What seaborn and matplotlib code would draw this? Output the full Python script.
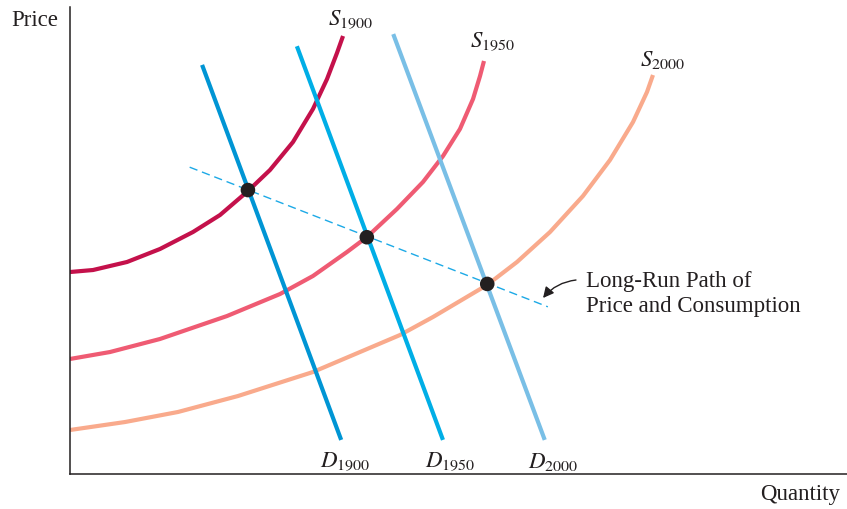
import numpy as np
import pandas as pd
import matplotlib
matplotlib.use("Agg")
import matplotlib.pyplot as plt
import seaborn as sns

# supply curves (quantity, price), 0-100 scale
s1900_q = [0, 2.96, 7.34, 11.58, 15.83, 19.31, 22.91, 25.74, 28.70, 31.27, 33.08, 34.36, 35.14]
s1900_p = [43.25, 43.68, 45.40, 48.18, 51.82, 55.46, 60.60, 65.10, 71.09, 78.16, 84.58, 90.15, 93.79]

s1950_q = [0, 5.15, 11.58, 20.21, 27.03, 31.27, 35.65, 38.22, 42.08, 45.43, 48.01, 50.19, 51.87, 52.77, 53.28]
s1950_p = [24.63, 26.12, 28.91, 33.83, 38.54, 42.40, 47.54, 50.75, 56.75, 62.53, 68.09, 73.88, 80.30, 85.22, 88.44]

s2000_q = [0, 7.08, 13.90, 21.62, 31.27, 42.47, 46.72, 53.67, 57.53, 61.78, 66.02, 69.50, 72.46, 74.26, 75.03]
s2000_p = [9.42, 11.13, 13.28, 16.70, 21.84, 29.76, 33.62, 40.47, 45.40, 51.82, 59.53, 67.24, 75.37, 81.80, 85.44]

# demand lines (two end points each)
d1900_q = [17.0, 34.9]
d1900_p = [87.6, 7.3]
d1950_q = [29.2, 48.0]
d1950_p = [91.6, 7.3]
d2000_q = [41.6, 61.1]
d2000_p = [94.2, 7.3]

# equilibria and long-run path
eq_q = [22.9, 38.2, 53.7]
eq_p = [60.8, 50.7, 40.7]
path_q = [15.4, 61.5]
path_p = [65.7, 35.8]

# callout arrow: tail, head
arrow_tail = (65.12, 41.54)
arrow_head = (60.88, 37.69)

ink = "#231F20"

sns.set_theme(style="white")
plt.rcParams["font.family"] = ["Liberation Serif", "DejaVu Serif"]
plt.rcParams["mathtext.fontset"] = "stix"

fig = plt.figure(figsize=(8.47, 5.10), dpi=100)
ax = fig.add_axes([70 / 847, 35 / 510, 777 / 847, 467 / 510])


def curve(q, p, color, lw):
    df = pd.DataFrame({"q": q, "p": p})
    sns.lineplot(data=df, x="q", y="p", ax=ax, color=color, linewidth=lw,
                 sort=False, estimator=None, solid_capstyle="butt",
                 solid_joinstyle="round")


curve(s1900_q, s1900_p, "#C4114B", 3.0)
curve(s1950_q, s1950_p, "#EF5B73", 3.0)
curve(s2000_q, s2000_p, "#F9AA8C", 3.0)
curve(d1900_q, d1900_p, "#0095D4", 3.0)
curve(d1950_q, d1950_p, "#00AEE6", 3.0)
curve(d2000_q, d2000_p, "#79BFE6", 3.0)

ax.plot(path_q, path_p, color="#1CA9E6", linewidth=1.0, linestyle=(0, (6, 3.5)))

sns.scatterplot(x=eq_q, y=eq_p, ax=ax, color=ink, s=110, edgecolor="none", zorder=5)

ax.set_xlim(0, 100)
ax.set_ylim(0, 100)
ax.set_xticks([])
ax.set_yticks([])
ax.set_xlabel("")
ax.set_ylabel("")
for side in ["top", "right"]:
    ax.spines[side].set_visible(False)
for side in ["left", "bottom"]:
    ax.spines[side].set_color(ink)
    ax.spines[side].set_linewidth(1.1)

fs = 16.5
ax.text(33.2, 97.4, r"$S_{1900}$", fontsize=fs, color=ink, va="center")
ax.text(51.5, 92.7, r"$S_{1950}$", fontsize=fs, color=ink, va="center")
ax.text(73.4, 88.9, r"$S_{2000}$", fontsize=fs, color=ink, va="center")
ax.text(32.2, 2.8, r"$D_{1900}$", fontsize=fs, color=ink, va="center")
ax.text(45.7, 2.8, r"$D_{1950}$", fontsize=fs, color=ink, va="center")
ax.text(58.9, 2.8, r"$D_{2000}$", fontsize=fs, color=ink, va="center")

ax.text(66.4, 38.8, "Long-Run Path of\nPrice and Consumption", fontsize=fs, color=ink,
        va="center", ha="left", linespacing=1.25)
ax.annotate("", xy=arrow_head, xytext=arrow_tail,
            arrowprops=dict(arrowstyle="-|>", color=ink, lw=1.0,
                            connectionstyle="arc3,rad=0.2",
                            shrinkA=0, shrinkB=0, mutation_scale=16))

fig.text(58 / 847, 1 - 20 / 510, "Price", fontsize=fs, color=ink, ha="right", va="center")
fig.text(840 / 847, 1 - 495 / 510, "Quantity", fontsize=fs, color=ink, ha="right", va="center")

fig.savefig("out.png", dpi=100)
